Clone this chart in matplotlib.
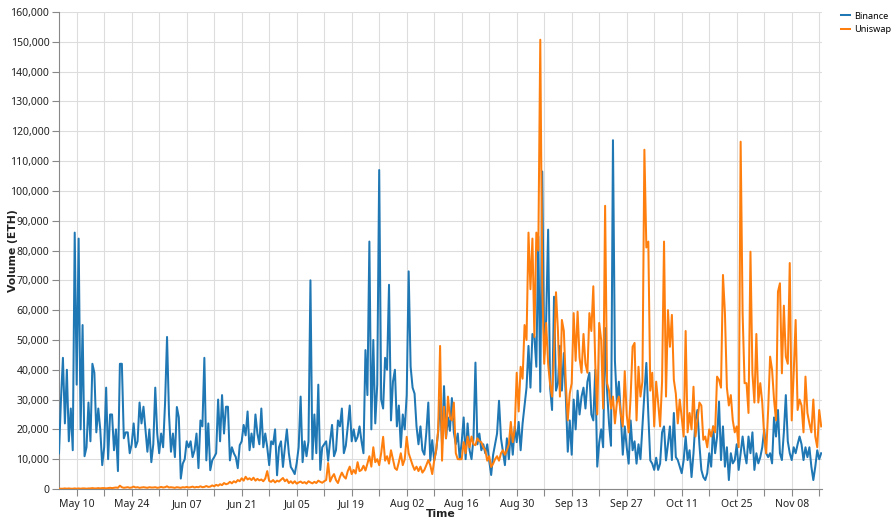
import numpy as np
import pandas as pd
import matplotlib
matplotlib.use("Agg")
import matplotlib.pyplot as plt
import matplotlib.dates as mdates
from matplotlib.ticker import FuncFormatter, MultipleLocator, FixedLocator
from matplotlib.lines import Line2D

plt.rcParams["font.family"] = ["Noto Sans", "DejaVu Sans"]

# 12-hourly volume, thousands of ETH, starting 2020-05-05 12:00
binance = [
    12, 30, 44, 22, 40, 16, 27, 13, 86, 35,
    84, 20, 55, 11, 14, 29, 16, 42, 39, 19,
    27, 20, 8, 14, 34, 10, 25, 25, 13, 20,
    6, 42, 42, 17, 19, 19, 12, 15, 22, 14,
    16, 29, 22, 27.6, 20, 12.5, 20, 9, 15, 34,
    18.6, 12, 18.6, 14, 29, 51, 25, 12.5, 18.6, 10.7,
    27.5, 24, 3.5, 8.5, 10, 16, 14, 16, 10.7, 13,
    18.6, 7, 23, 21, 44, 9.6, 22, 6.3, 9.6, 10.7,
    12, 30, 16, 31.5, 18.6, 27.6, 27.6, 9.6, 14, 12,
    10.7, 7, 14.7, 16, 21.5, 18, 26, 13, 18.6, 14,
    25, 18.6, 15, 27, 14, 18.6, 14, 8, 16, 15,
    20, 4.6, 14, 16, 7.4, 14, 20, 12, 7.4, 6.3,
    5, 8.7, 14, 31, 9, 16, 11, 16, 70, 10,
    25, 12, 35, 6.4, 14, 15, 16, 9.5, 16, 21.5,
    11, 13, 23, 21, 27, 12, 14.5, 21, 28, 16,
    20, 16, 17.5, 21, 16, 12, 46.6, 31.5, 83, 20,
    50, 22, 35, 107, 30, 27, 44, 40, 68.5, 23,
    36, 40, 21, 28, 14, 25, 20, 31.5, 73, 41,
    34, 32, 21, 15, 21, 13, 11.5, 19, 29, 9.5,
    16.4, 9.5, 13, 19, 30, 15, 34.5, 17, 24, 19.5,
    30.5, 19, 15, 18.6, 10, 15.7, 24, 10, 22, 13,
    10, 17, 42.4, 15, 18.6, 13, 15, 12, 15, 9.5,
    4.7, 11.5, 15, 18.6, 29.6, 17, 12.5, 8, 17, 10,
    19.5, 11.5, 21, 15.7, 22.5, 13, 22, 28, 34, 48,
    34, 52, 51, 41, 84.7, 32.6, 106.5, 45, 56.7, 87,
    34, 26.5, 64.5, 33, 35.5, 48, 33, 45.6, 31, 12.5,
    23, 11.5, 30, 20, 33, 25, 31, 34, 27, 36,
    39, 25, 23, 40, 7.5, 15.6, 20, 14, 54, 33,
    22, 14.5, 117, 43, 29, 36, 25, 11.5, 21, 14,
    8.5, 23, 13, 16, 8.5, 15, 10, 21, 32, 42.3,
    25, 9.6, 8.5, 6.4, 10.5, 6.4, 8.5, 19, 21, 9.6,
    15, 21, 9.7, 25.5, 10.7, 9.7, 7.5, 5.3, 9.7, 17.6,
    9.7, 13, 4, 12, 23, 26.5, 15, 6.4, 4, 3,
    5.3, 12, 7.5, 21, 12, 17.6, 29.3, 9.7, 21, 7.5,
    14, 3, 12, 8.6, 9.7, 15, 6.4, 12, 17.6, 12,
    8.6, 17.6, 12, 19, 6.4, 12, 8.6, 10.7, 14, 20,
    12, 10.7, 12, 8.6, 24, 17.6, 26.5, 12, 9.7, 19,
    31.5, 16, 12, 9.7, 14, 12, 15, 17.6, 15, 9.7,
    14, 10.7, 14, 7.5, 3, 7.5, 13, 10, 12,
]

uniswap = [
    0.1, 0.1, 0.1, 0.2, 0.1, 0.2, 0.1, 0.1, 0.2, 0.1,
    0.2, 0.1, 0.2, 0.2, 0.1, 0.2, 0.2, 0.3, 0.2, 0.2,
    0.3, 0.2, 0.3, 0.3, 0.2, 0.3, 0.4, 0.3,
    0.4, 0.5, 0.4, 1.1, 0.6, 0.4, 0.5, 0.6, 0.4, 0.5,
    0.8, 0.5, 0.6, 0.4, 0.5, 0.6, 0.5, 0.4, 0.6, 0.5,
    0.5, 0.6, 0.4, 0.5, 0.7, 0.5, 0.6, 0.9, 0.5, 0.6,
    0.5, 0.4, 0.6, 0.5, 0.4, 0.6, 0.5, 0.7, 0.5, 0.6,
    0.8, 0.5, 0.7, 0.6, 0.9, 0.6, 0.7, 1.0, 0.7, 0.8,
    1.2, 0.9, 1.4, 1.1, 1.6, 1.3, 2.0, 1.6, 1.8, 2.4,
    1.9, 2.6, 2.2, 3.0, 2.6, 3.6, 2.8, 4.1, 3.2, 3.6,
    3.0, 3.8, 2.8, 3.4, 2.9, 3.2, 2.6, 3.5, 6.0, 2.7,
    2.4, 3.0, 2.2, 2.8, 2.5, 3.1, 3.7, 2.6, 3.2, 2.0,
    2.6, 1.9, 2.6, 1.8, 2.2, 2.5, 2.0, 2.3, 1.8, 2.6,
    2.2, 1.9, 2.4, 2.0, 2.8, 2.4, 2.1, 2.6, 3.0, 8.7,
    2.5, 4.0, 5.0, 3.0, 2.0, 4.0, 5.5, 4.2, 3.5, 6.0,
    7.5, 5.0, 6.4, 5.2, 9.0, 6.0, 6.4, 7.8, 6.2, 8.5,
    11, 7.5, 14, 9.0, 10, 8.0, 12, 17.5, 9.5, 11,
    8.5, 13, 10, 7.0, 6.4, 9.0, 12, 8.0, 10, 17.5,
    12, 10, 8.0, 6.4, 7.5, 6.0, 7.5, 5.5, 6.4, 8.0,
    9.7, 8.0, 5.0, 9.5, 13, 19.5,
    48,
    9.5, 27.6, 17, 31, 24, 23, 29, 12, 10, 10,
    10, 15.7, 12, 17.6, 14, 17.6, 15, 14.7, 17, 16,
    15.7, 14, 13, 9.5, 11, 7.4, 8.5, 10, 11, 9.5,
    12, 13, 11.5, 13, 15, 22.5, 15.7, 20,
    39, 26, 41, 37, 55, 50, 86, 67, 84, 51, 86, 80, 150.7,
    68, 42, 55.7, 42, 35, 31, 45, 66, 53, 31,
    56.7, 53, 35.5, 23, 32, 35.5, 59, 43, 59.5, 44,
    39, 52, 42, 39, 59, 53, 68, 42, 25, 55.7,
    50, 27, 95, 35.5, 33, 27,
    31, 22, 29, 31, 25, 21, 39.5, 25, 19, 31,
    47.7, 49, 23, 41, 31, 36, 113.8, 81, 83, 33,
    39, 21, 36, 29, 21, 36, 83, 31, 60,
    47.7, 58.4, 36.6, 32, 22, 30, 24, 17.6, 53, 19,
    25.5, 20, 34.3, 17.6, 23, 29, 28, 16.5, 17.6, 14,
    20, 17.6, 21, 19, 37.7, 36.6, 34, 71.8, 59, 34,
    28, 31.5, 23, 19, 21, 14, 116.5, 59, 35.5, 35.5,
    25.5, 79.6, 38.8, 29, 52, 29, 35.5, 29, 17.6, 12,
    26.5, 44.4, 40, 30, 23, 66.2, 69, 38.8, 61.5, 44.4,
    42, 75.8, 23, 38.8, 56.7, 26.5, 30, 28, 19, 37.7,
    25.5, 22, 19, 30, 17.6, 14, 26.5, 21,
]

series_names = ["Binance", "Uniswap"]
colors = ["#1f77b4", "#ff7f0e"]
tick_labels_start = "2020-05-10"
tick_labels_end = "2020-11-08"

start = pd.Timestamp("2020-05-05 12:00")
t_b = start + pd.to_timedelta(np.arange(len(binance)) * 12, unit="h")
t_u = start + pd.to_timedelta(np.arange(len(uniswap)) * 12, unit="h")

fig = plt.figure(figsize=(8.91, 5.19), dpi=100)
ax = fig.add_axes([59 / 891, 30 / 519, 763 / 891, 477 / 519])

ax.plot(t_b, np.array(binance) * 1000, color=colors[0], lw=1.45, zorder=3)
ax.plot(t_u, np.array(uniswap) * 1000, color=colors[1], lw=1.45, zorder=4)

ax.set_ylim(0, 160000)
ax.set_xlim(pd.Timestamp("2020-05-05 12:00"), pd.Timestamp("2020-11-15 17:00"))
ax.yaxis.set_major_locator(MultipleLocator(10000))
ax.yaxis.set_major_formatter(FuncFormatter(lambda v, p: "{:,.0f}".format(v)))

major = pd.date_range(tick_labels_start, tick_labels_end, freq="14D")
minor = pd.date_range("2020-05-17", "2020-11-15", freq="14D")
ax.xaxis.set_major_locator(FixedLocator(mdates.date2num(major)))
ax.xaxis.set_minor_locator(FixedLocator(mdates.date2num(minor)))
ax.xaxis.set_major_formatter(mdates.DateFormatter("%b %d"))

ax.grid(True, which="both", color="#dddddd", lw=0.8, zorder=0)
ax.set_axisbelow(True)
for s in ["top", "right"]:
    ax.spines[s].set_visible(False)
for s in ["left", "bottom"]:
    ax.spines[s].set_color("#888888")
    ax.spines[s].set_linewidth(0.8)

ax.tick_params(which="both", length=5, width=0.8, color="#888888",
               labelsize=7.5, labelcolor="#222222", pad=2)

title_font = dict(fontsize=7.8, fontweight="bold", color="#222222",
                  family=["DejaVu Sans"])
ax.set_xlabel("Time", **title_font)
ax.set_ylabel("Volume (ETH)", **title_font)
ax.xaxis.set_label_coords(0.5, -0.041)
ax.yaxis.set_label_coords(-0.054, 0.5)

handles = [Line2D([], [], color=c, lw=1.45) for c in colors]
fig.legend(handles, series_names, loc="upper left",
           bbox_to_anchor=(837 / 891, 1 - 8 / 519), frameon=False,
           fontsize=6.6, handlelength=1.05, handletextpad=0.4,
           labelspacing=0.5, borderaxespad=0)

fig.savefig("out.png", dpi=100)
